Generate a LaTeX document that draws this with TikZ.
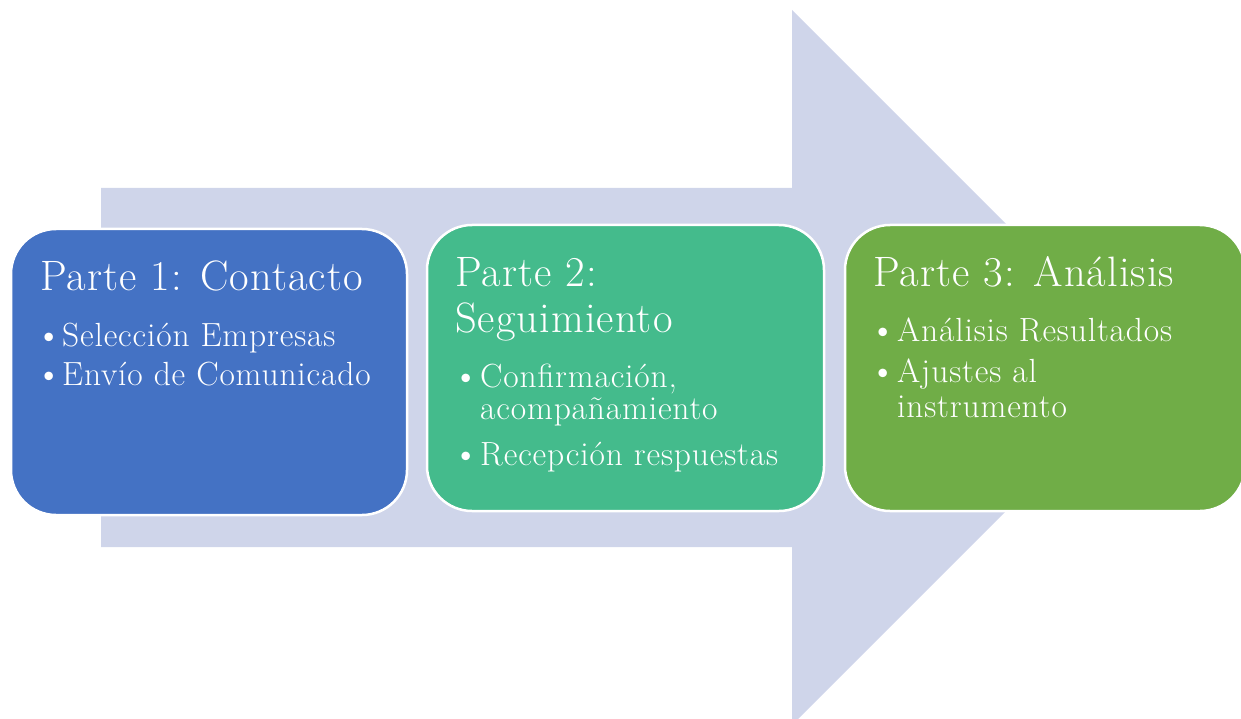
\documentclass[tikz,border=0pt]{standalone}
\usepackage{fontspec}
\setmainfont{Latin Modern Roman}[LetterSpace=2.5]
\definecolor{arrowc}{HTML}{CFD5EA}
\definecolor{boxa}{HTML}{4472C4}
\definecolor{boxb}{HTML}{44BB8C}
\definecolor{boxc}{HTML}{70AD47}
\tikzset{
  stage/.style={draw=white, line width=2.5pt, rounded corners=45pt},
  ttl/.style={anchor=base west, text=white, inner sep=0pt, font=\fontsize{42.5}{46}\selectfont},
  itm/.style={anchor=base west, text=white, inner sep=0pt, font=\fontsize{33.5}{36}\selectfont},
  dot/.style={anchor=base west, text=white, inner sep=0pt, font=\fontsize{38}{36}\selectfont},
}
\begin{document}
\begin{tikzpicture}[x=1pt,y=-1pt]
\useasboundingbox (0,0) rectangle (1241,719);
\clip (0,0) rectangle (1241,719);
% big arrow
\fill[arrowc] (101,188) -- (792,188) -- (792,10) -- (1149.5,367.5) -- (792,725) -- (792,547) -- (101,547) -- cycle;
% boxes
\filldraw[stage, fill=boxa] (11,229) rectangle (407,515);
\filldraw[stage, fill=boxb] (427,225) rectangle (824,511);
\filldraw[stage, fill=boxc] (845,225) rectangle (1245,511);
% box 1
\node[ttl] (t1) at (40,290) {Parte 1: Contacto};
\node[dot] (d11) at (35,347) {\textbullet};
\node[itm] (b11) at (62,346) {Selección Empresas};
\node[dot] (d12) at (35,386) {\textbullet};
\node[itm] (b12) at (62,385) {Envío de Comunicado};
% box 2
\node[ttl] (t2a) at (455,286) {Parte 2:};
\node[ttl] (t2b) at (455,332) {Seguimiento};
\node[dot] (d21) at (452,388) {\textbullet};
\node[itm] (b21) at (480,387) {Confirmación,};
\node[itm] (b21b) at (480,419) {acompañamiento};
\node[dot] (d22) at (452,466) {\textbullet};
\node[itm] (b22) at (480,465) {Recepción respuestas};
% box 3
\node[ttl] (t3) at (873,286) {Parte 3: Análisis};
\node[dot] (d31) at (869,342) {\textbullet};
\node[itm] (b31) at (897,341) {Análisis Resultados};
\node[dot] (d32) at (869,383) {\textbullet};
\node[itm] (b32) at (897,382) {Ajustes al};
\node[itm] (b32b) at (897,417) {instrumento};
\end{tikzpicture}
\end{document}
